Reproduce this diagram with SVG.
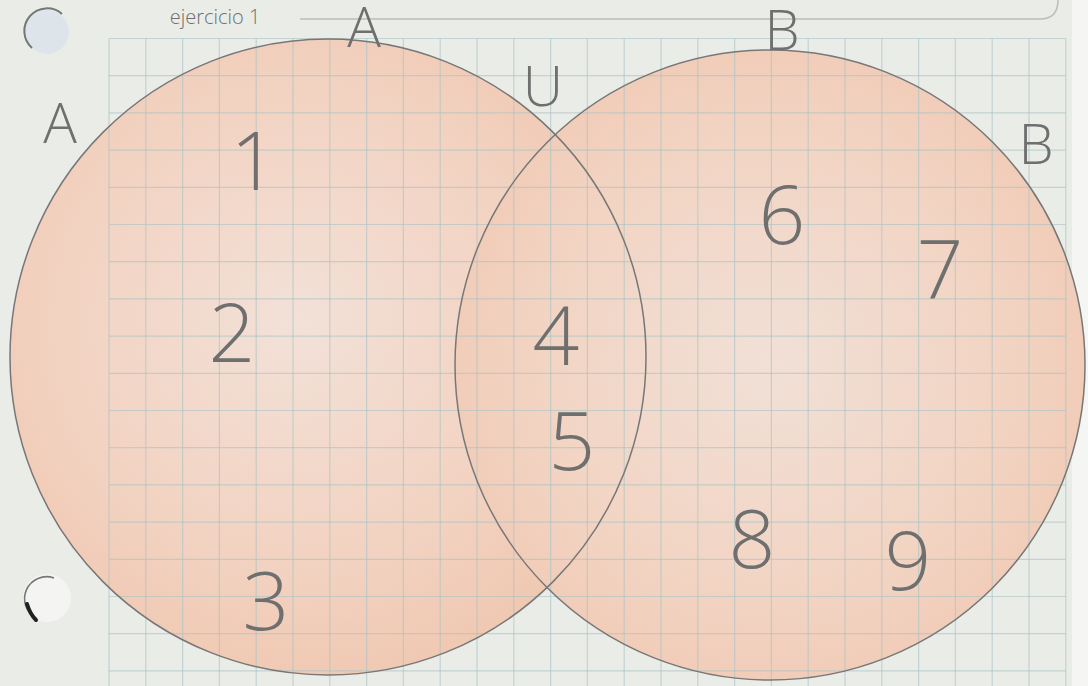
<svg xmlns="http://www.w3.org/2000/svg" width="1088" height="686" viewBox="0 0 1088 686">
<defs>
<style>
.hand{font-family:"Open Sans","Liberation Sans",sans-serif;font-weight:300;fill:#6e6f6e;text-anchor:middle}
.num{font-size:82px}
.lbl{font-size:56px}
.grid line{stroke:#a9c3c5;stroke-width:1.2;opacity:0.6}
.ring{fill:none;stroke:#777;stroke-width:1.5}
</style>
<radialGradient id="shadeA" cx="0.45" cy="0.45" r="0.6">
<stop offset="0" stop-color="#f2e1d8"/>
<stop offset="0.6" stop-color="#f2d3c2"/>
<stop offset="1" stop-color="#f0c7b0"/>
</radialGradient>
<radialGradient id="shadeB" cx="0.5" cy="0.5" r="0.6">
<stop offset="0" stop-color="#f1e0d7"/>
<stop offset="0.6" stop-color="#f2d4c3"/>
<stop offset="1" stop-color="#f0c8b2"/>
</radialGradient>
</defs>
<rect width="1088" height="686" fill="#eaece8"/>
<rect x="1072" y="0" width="16" height="686" fill="#f5f6f4"/>
<g id="header">
<text x="215" y="24" class="hand" style="font-size:20px">ejercicio 1</text>
<path d="M 300 19 H 1040 Q 1058 19 1058 0" fill="none" stroke="#bbbdba" stroke-width="1.5"/>
</g>
<g id="holes">
<circle cx="47" cy="32" r="22" fill="#dde4ea"/>
<path d="M 32 48 A 22 22 0 0 1 62 14" fill="none" stroke="#777" stroke-width="2"/>
<circle cx="47" cy="598" r="24" fill="#f4f5f3"/>
<path d="M 36 618 A 22 22 0 0 1 54 578" fill="none" stroke="#777" stroke-width="1.6"/>
<path d="M 27 604 Q 30 614 36 620" fill="none" stroke="#222" stroke-width="4" stroke-linecap="round"/>
</g>
<g id="fills">
<circle cx="328" cy="357" r="318" fill="url(#shadeA)"/>
<circle cx="770" cy="365" r="315" fill="url(#shadeB)"/>
</g>
<g class="grid">
<line x1="109" y1="38.5" x2="109" y2="686"/><line x1="145.8" y1="38.5" x2="145.8" y2="686"/><line x1="182.6" y1="38.5" x2="182.6" y2="686"/><line x1="219.4" y1="38.5" x2="219.4" y2="686"/><line x1="256.2" y1="38.5" x2="256.2" y2="686"/><line x1="293" y1="38.5" x2="293" y2="686"/><line x1="329.8" y1="38.5" x2="329.8" y2="686"/><line x1="366.6" y1="38.5" x2="366.6" y2="686"/><line x1="403.4" y1="38.5" x2="403.4" y2="686"/><line x1="440.2" y1="38.5" x2="440.2" y2="686"/><line x1="477" y1="38.5" x2="477" y2="686"/><line x1="513.8" y1="38.5" x2="513.8" y2="686"/><line x1="550.6" y1="38.5" x2="550.6" y2="686"/><line x1="587.4" y1="38.5" x2="587.4" y2="686"/><line x1="624.2" y1="38.5" x2="624.2" y2="686"/><line x1="661" y1="38.5" x2="661" y2="686"/><line x1="697.8" y1="38.5" x2="697.8" y2="686"/><line x1="734.6" y1="38.5" x2="734.6" y2="686"/><line x1="771.4" y1="38.5" x2="771.4" y2="686"/><line x1="808.2" y1="38.5" x2="808.2" y2="686"/><line x1="845" y1="38.5" x2="845" y2="686"/><line x1="881.8" y1="38.5" x2="881.8" y2="686"/><line x1="918.6" y1="38.5" x2="918.6" y2="686"/><line x1="955.4" y1="38.5" x2="955.4" y2="686"/><line x1="992.2" y1="38.5" x2="992.2" y2="686"/><line x1="1029" y1="38.5" x2="1029" y2="686"/><line x1="1065.8" y1="38.5" x2="1065.8" y2="686"/>
<line x1="109" y1="38.5" x2="1065.8" y2="38.5"/><line x1="109" y1="75.7" x2="1065.8" y2="75.7"/><line x1="109" y1="112.9" x2="1065.8" y2="112.9"/><line x1="109" y1="150.1" x2="1065.8" y2="150.1"/><line x1="109" y1="187.3" x2="1065.8" y2="187.3"/><line x1="109" y1="224.5" x2="1065.8" y2="224.5"/><line x1="109" y1="261.7" x2="1065.8" y2="261.7"/><line x1="109" y1="298.9" x2="1065.8" y2="298.9"/><line x1="109" y1="336.1" x2="1065.8" y2="336.1"/><line x1="109" y1="373.3" x2="1065.8" y2="373.3"/><line x1="109" y1="410.5" x2="1065.8" y2="410.5"/><line x1="109" y1="447.7" x2="1065.8" y2="447.7"/><line x1="109" y1="484.9" x2="1065.8" y2="484.9"/><line x1="109" y1="522.1" x2="1065.8" y2="522.1"/><line x1="109" y1="559.3" x2="1065.8" y2="559.3"/><line x1="109" y1="596.5" x2="1065.8" y2="596.5"/><line x1="109" y1="633.7" x2="1065.8" y2="633.7"/><line x1="109" y1="670.9" x2="1065.8" y2="670.9"/>
</g>
<g id="setA">
<circle class="ring" cx="328" cy="357" r="318"/>
</g>
<g id="setB">
<circle class="ring" cx="770" cy="365" r="315"/>
</g>
<g id="labels">
<text class="hand lbl" x="364" y="47">A</text>
<text class="hand lbl" x="782" y="50">B</text>
<text class="hand lbl" x="543" y="106">U</text>
<text class="hand lbl" x="60" y="143">A</text>
<text class="hand lbl" x="1036" y="164">B</text>
</g>
<g id="regionA">
<text class="hand num" x="254" y="190">1</text>
<text class="hand num" x="232" y="362">2</text>
<text class="hand num" x="266" y="630">3</text>
</g>
<g id="regionAB">
<text class="hand num" x="556" y="365">4</text>
<text class="hand num" x="572" y="470">5</text>
</g>
<g id="regionB">
<text class="hand num" x="782" y="244">6</text>
<text class="hand num" x="940" y="298">7</text>
<text class="hand num" x="752" y="568">8</text>
<text class="hand num" x="908" y="590">9</text>
</g>
</svg>
